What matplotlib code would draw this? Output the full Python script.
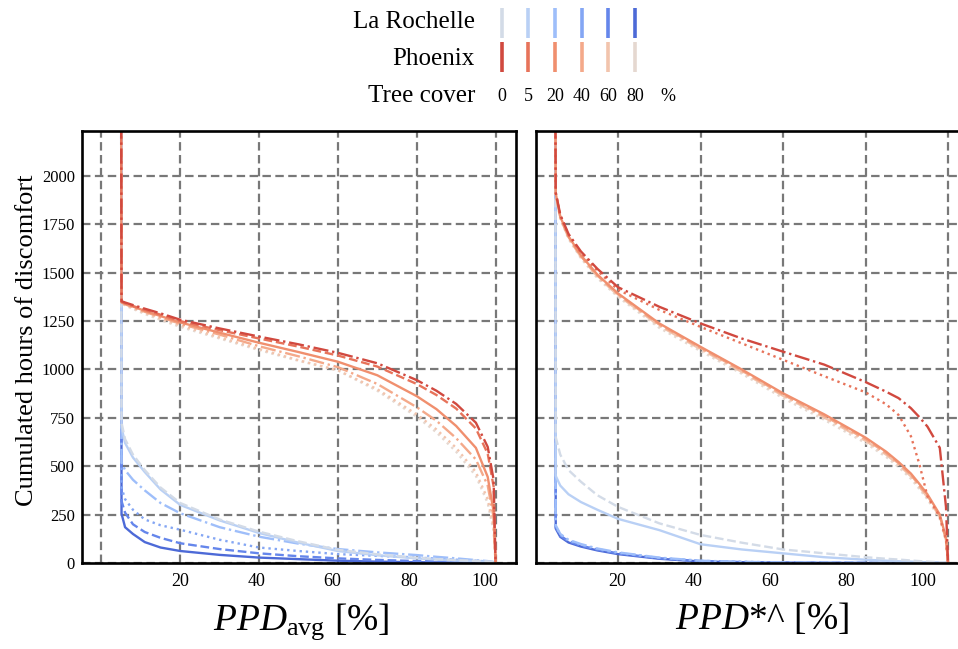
import matplotlib
matplotlib.use("Agg")
import matplotlib.pyplot as plt

plt.rcParams['font.family'] = 'Liberation Serif'
plt.rcParams['mathtext.fontset'] = 'custom'
plt.rcParams['mathtext.rm'] = 'Liberation Serif'
plt.rcParams['mathtext.it'] = 'Liberation Serif:italic'

# tree cover levels (%)
tree_cover = [0, 5, 20, 40, 60, 80]

rochelle_colors = ['#d3dbe7', '#b9d0f5', '#9ebefa', '#84a6f4', '#6586eb', '#4d6ad7']
phoenix_colors = ['#d1493f', '#e7735a', '#f08f6e', '#f4a98a', '#f2c4ad', '#e5d8d0']

rochelle_styles = ['--', '-', '-.', ':', '--', '-']
phoenix_styles_avg = ['-.', '--', '-', '-.', ':', ':']
phoenix_styles_star = ['-.', ':', '-', '--', '-.', ':']

# PPD thresholds (%) - left panel
x_avg = [5, 5.1, 6, 8, 11, 15, 20, 30, 40, 50, 60, 70, 80, 85, 90, 95, 98, 99.5, 100]

# cumulated hours of discomfort, one row per tree cover level
rochelle_avg = [
    [2400, 725, 640, 560, 480, 390, 310, 225, 162, 112, 68, 45, 27, 20, 15, 11, 8, 5, 0],
    [2400, 700, 620, 545, 470, 380, 300, 220, 155, 105, 62, 40, 24, 18, 13, 10, 7, 4, 0],
    [2400, 520, 480, 430, 375, 310, 257, 185, 136, 100, 72, 55, 41, 32, 24, 15, 10, 5, 0],
    [2400, 390, 330, 275, 225, 195, 172, 120, 80, 62, 46, 37, 29, 22, 17, 12, 8, 4, 0],
    [2400, 320, 260, 200, 160, 130, 102, 72, 50, 35, 24, 16, 10, 8, 6, 4, 3, 2, 0],
    [2400, 255, 185, 150, 108, 80, 62, 42, 28, 20, 12, 7, 4, 3, 2, 1, 1, 0, 0],
]
phoenix_avg = [
    [2400, 1353, 1346, 1333, 1314, 1290, 1257, 1212, 1170, 1130, 1086, 1032, 945, 890, 822, 725, 600, 430, 0],
    [2400, 1350, 1342, 1328, 1308, 1283, 1250, 1203, 1160, 1118, 1072, 1015, 925, 868, 798, 695, 565, 395, 0],
    [2400, 1348, 1340, 1325, 1303, 1276, 1243, 1190, 1138, 1090, 1040, 970, 862, 795, 708, 595, 445, 265, 0],
    [2400, 1346, 1337, 1321, 1298, 1270, 1236, 1180, 1120, 1068, 1012, 925, 805, 735, 645, 535, 400, 235, 0],
    [2400, 1344, 1334, 1317, 1293, 1263, 1228, 1166, 1106, 1048, 996, 898, 768, 690, 595, 470, 330, 185, 0],
    [2400, 1342, 1331, 1313, 1287, 1256, 1220, 1160, 1100, 1045, 995, 890, 756, 675, 575, 450, 310, 165, 0],
]

# PPD thresholds (%) - right panel
x_star = [4.8, 4.9, 6, 8, 11, 15, 20, 30, 40, 50, 60, 70, 80, 85, 88, 91, 93, 95, 98, 99.5, 100]

rochelle_star = [
    [2400, 650, 560, 480, 420, 350, 290, 205, 145, 105, 70, 50, 30, 22, 18, 13, 10, 7, 4, 2, 0],
    [2400, 450, 400, 355, 315, 275, 228, 170, 97, 70, 50, 30, 17, 12, 9, 7, 5, 3, 2, 1, 0],
    [2400, 195, 150, 120, 98, 75, 55, 28, 12, 6, 3, 2, 1, 1, 0, 0, 0, 0, 0, 0, 0],
    [2400, 190, 146, 116, 94, 72, 52, 26, 11, 6, 3, 2, 1, 0, 0, 0, 0, 0, 0, 0, 0],
    [2400, 185, 142, 112, 90, 69, 50, 24, 10, 5, 2, 1, 1, 0, 0, 0, 0, 0, 0, 0, 0],
    [2400, 178, 135, 106, 85, 65, 46, 22, 8, 4, 2, 1, 0, 0, 0, 0, 0, 0, 0, 0, 0],
]
phoenix_star = [
    [2400, 1915, 1800, 1700, 1610, 1520, 1425, 1324, 1238, 1160, 1092, 1025, 935, 885, 852, 800, 755, 705, 595, 290, 0],
    [2400, 1912, 1795, 1695, 1603, 1510, 1412, 1308, 1220, 1135, 1050, 965, 882, 820, 765, 655, 515, 345, 240, 120, 0],
    [2400, 1910, 1790, 1688, 1590, 1490, 1393, 1238, 1117, 1000, 877, 768, 648, 575, 522, 462, 410, 355, 250, 130, 0],
    [2400, 1908, 1787, 1684, 1585, 1485, 1388, 1232, 1111, 994, 870, 760, 640, 568, 515, 455, 402, 348, 244, 125, 0],
    [2400, 1906, 1784, 1680, 1581, 1480, 1383, 1226, 1105, 988, 864, 752, 632, 560, 508, 448, 395, 340, 238, 120, 0],
    [2400, 1903, 1780, 1675, 1575, 1472, 1375, 1215, 1095, 978, 852, 740, 620, 548, 496, 436, 384, 330, 228, 112, 0],
]

grid_ticks = [0, 20, 40, 60, 80, 100]
label_ticks = [20, 40, 60, 80, 100]
y_ticks = [0, 250, 500, 750, 1000, 1250, 1500, 1750, 2000]

fig = plt.figure(figsize=(9.58, 6.49), dpi=100)
ax1 = fig.add_axes([0.0853, 0.1325, 0.4530, 0.6656])
ax2 = fig.add_axes([0.5590, 0.1325, 0.4530, 0.6656])


def draw_panel(ax, x, rochelle, phoenix, ph_styles):
    # La Rochelle first, darkest to lightest, then Phoenix on top
    for i in reversed(range(len(tree_cover))):
        ax.plot(x, rochelle[i], color=rochelle_colors[i], ls=rochelle_styles[i], lw=1.7)
    for i in reversed(range(len(tree_cover))):
        ax.plot(x, phoenix[i], color=phoenix_colors[i], ls=ph_styles[i], lw=1.7)
    ax.set_ylim(0, 2232)
    ax.set_yticks(y_ticks)
    ax.set_xticks(grid_ticks)
    ax.set_axisbelow(True)
    ax.grid(True, color='0.47', ls=(0, (3.8, 2.0)), lw=1.6)
    ax.tick_params(axis='x', length=0, labelbottom=False)
    ax.tick_params(axis='y', length=0, pad=5, labelsize=12)
    for s in ax.spines.values():
        s.set_linewidth(1.9)


draw_panel(ax1, x_avg, rochelle_avg, phoenix_avg, phoenix_styles_avg)
draw_panel(ax2, x_star, rochelle_star, phoenix_star, phoenix_styles_star)
ax1.set_xlim(-5, 105.1)
ax2.set_xlim(0, 105.2)
ax2.tick_params(axis='y', labelleft=False)

# tick labels sit on their own (slightly compressed) scale
for ax, a, b in [(ax1, 0.635, 0.967), (ax2, 1.21, 0.927)]:
    sec = ax.secondary_xaxis('bottom', functions=(lambda v, a=a, b=b: (v - a) / b,
                                                   lambda v, a=a, b=b: a + b * v))
    sec.set_xticks(label_ticks)
    sec.tick_params(length=0, pad=7, labelsize=13)
    sec.spines['bottom'].set_visible(False)

ax1.set_ylabel('Cumulated hours of discomfort', fontsize=19)
ax1.yaxis.set_label_coords(-0.10, 0.515)
ax1.set_xlabel(r'$\mathit{PPD}_{\mathrm{avg}}$ [%]', fontsize=27)
ax2.set_xlabel(r'$\mathit{PPD}$*^ [%]', fontsize=27)
ax1.xaxis.set_label_coords(0.505, -0.088)
ax2.xaxis.set_label_coords(0.523, -0.088)

# legend block
lax = fig.add_axes([0.501, 0.818, 0.219, 0.182])
lax.set_xlim(-0.81, 7.06)
lax.set_ylim(2.595, -0.595)
lax.axis('off')
for i in range(len(tree_cover)):
    lax.plot([i], [0.02], marker='|', ms=21, mew=2.6, color=rochelle_colors[i])
    lax.plot([i], [0.95], marker='|', ms=21, mew=2.6, color=phoenix_colors[i])
    lax.text(i, 2, str(tree_cover[i]), ha='center', va='center', fontsize=13)
lax.text(6.24, 2, '%', ha='center', va='center', fontsize=13)
lax.text(-1.0, 0, 'La Rochelle', ha='right', va='center', fontsize=18)
lax.text(-1.0, 1, 'Phoenix', ha='right', va='center', fontsize=18)
lax.text(-1.0, 2, 'Tree cover', ha='right', va='center', fontsize=18)

fig.savefig('out.png', dpi=100)
